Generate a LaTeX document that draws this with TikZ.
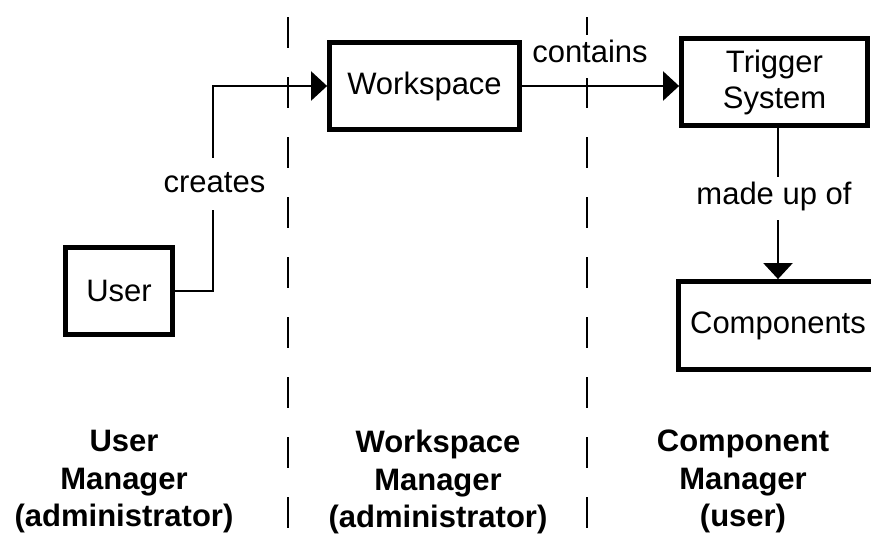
\documentclass[tikz,border=0pt]{standalone}
\usepackage{fontspec}
\setmainfont{Liberation Sans}
\usetikzlibrary{arrows.meta}
\begin{document}
\begin{tikzpicture}[x=1pt,y=-1pt,
  box/.style={draw, line width=4.8pt, inner sep=0pt, align=center,
    font=\fontsize{31}{36}\selectfont},
  conn/.style={line width=2.3pt},
  tip/.style={-{Triangle[length=16pt,width=29pt]}},
  lane/.style={line width=2.6pt, dash pattern=on 31pt off 29pt},
  edgelabel/.style={fill=white, inner xsep=3pt, inner ysep=0pt, anchor=base,
    font=\fontsize{31}{36}\selectfont},
  lanetitle/.style={align=center, anchor=north, inner sep=0pt,
    font=\fontsize{31}{37.5}\selectfont\bfseries}]

\useasboundingbox (0,0) rectangle (871,538);
\clip (0,0) rectangle (871,538);

% swimlane separators
\draw[lane] (288,17) -- (288,530);
\draw[lane] (587,17) -- (587,530);

% boxes
\node[box, minimum width=107pt, minimum height=87pt] (user) at (119,291) {User};
\node[box, minimum width=190pt, minimum height=87pt] (workspace) at (424.5,86) {Workspace};
\node[box, minimum width=186pt, minimum height=87pt] (trigger) at (774.5,82) {Trigger\\System};
\node[box, minimum width=199pt, minimum height=88pt] (comps) at (778,325.5) {Components};

% connectors
\coordinate (turn) at (213,0);
\draw[conn, tip] (user.east) -| (turn |- workspace.west) -- (workspace.west);
\draw[conn, tip] (workspace.east) -- (workspace.east -| trigger.west);
\draw[conn, tip] (trigger.south -| comps.north) -- (comps.north);

% connector labels
\node[edgelabel, text height=34pt, text depth=18pt] (creates) at (214.5,192) {creates};
\node[edgelabel, text height=27pt, text depth=16pt] (contains) at (590,62) {contains};
\node[edgelabel, text height=27pt, text depth=16pt] (madeup) at (774,204) {made up of};

% lane titles
\node[lanetitle] (umgr) at (124,430) {User\\Manager\\(administrator)};
\node[lanetitle] (wmgr) at (438,430) {Workspace\\Manager\\(administrator)};
\node[lanetitle] (cmgr) at (743,430) {Component\\Manager\\(user)};
\end{tikzpicture}
\end{document}
